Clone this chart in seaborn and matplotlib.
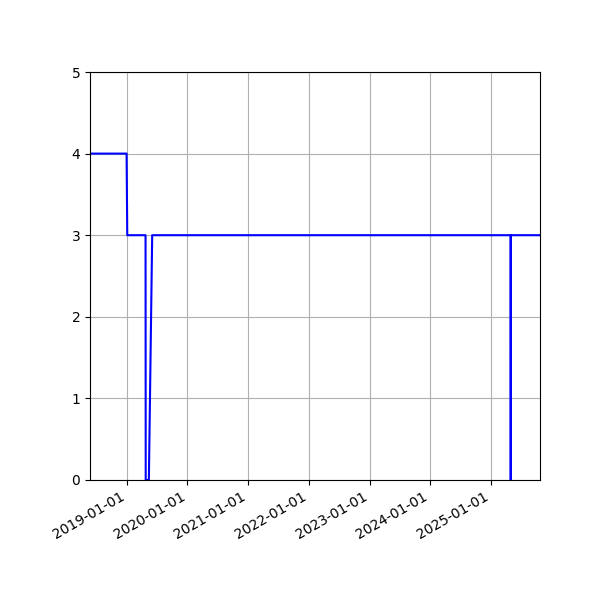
import matplotlib
matplotlib.use("Agg")
import matplotlib.pyplot as plt
import matplotlib.dates as mdates
import numpy as np
import pandas as pd
import seaborn as sns

# values
dates = ["2018-05-26", "2019-01-01", "2019-01-05", "2019-04-25", "2019-04-26",
         "2019-05-15", "2019-06-04", "2025-04-28", "2025-04-29", "2025-04-30",
         "2025-10-22"]
values = [4, 4, 3, 3, 0, 0, 3, 3, 0, 3, 3]

df = pd.DataFrame({"date": pd.to_datetime(dates), "value": values})

fig, ax = plt.subplots(figsize=(6, 6), dpi=100)
sns.lineplot(data=df, x="date", y="value", color="blue", linewidth=1.5,
             sort=False, estimator=None, ax=ax)

ax.set_xlim(df["date"].min(), df["date"].max())
ax.set_ylim(0, 5)
ax.set_yticks(range(6))
ax.xaxis.set_major_locator(mdates.YearLocator())
ax.xaxis.set_major_formatter(mdates.DateFormatter("%Y-%m-%d"))
ax.grid(True)
ax.set_xlabel("")
ax.set_ylabel("")

fig.autofmt_xdate()
fig.subplots_adjust(left=0.15, right=0.9, top=0.88, bottom=0.2)
fig.savefig("out.png", dpi=100)
